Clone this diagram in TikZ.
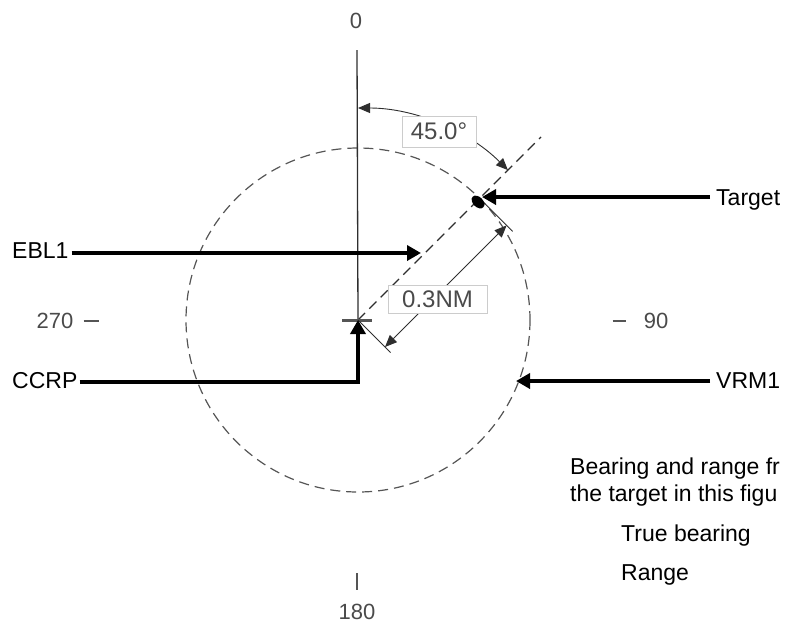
\documentclass[tikz,border=0pt]{standalone}
\usepackage{fontspec}
\setmainfont{Liberation Sans}
\usetikzlibrary{arrows.meta,shapes.geometric,calc}
\definecolor{lblgray}{HTML}{4A4A4A}
\definecolor{boxgray}{HTML}{CCCCCC}
\definecolor{linegray}{HTML}{2E2E2E}
\definecolor{circgray}{HTML}{555555}
\begin{document}
\begin{tikzpicture}[x=1pt,y=-1pt,
  lbl/.style={font=\fontsize{23}{27}\selectfont, inner sep=0pt, text=black},
  scalelbl/.style={font=\fontsize{22}{26}\selectfont, inner sep=0pt, text=lblgray},
  valbox/.style={draw=boxgray, line width=0.8pt, fill=white, text=lblgray,
    font=\fontsize{24}{28}\selectfont, inner sep=0pt},
  bigarrow/.style={line width=4.5pt, line join=miter, -{Triangle[length=14pt,width=15pt]}},
  dimarrow/.style={line width=0.9pt, draw=linegray, {Triangle[length=12pt,width=10pt]}-{Triangle[length=12pt,width=10pt]}},
  dashline/.style={line width=1.2pt, dash pattern=on 10pt off 6pt},
  tickmark/.style={line width=1.6pt, draw=circgray}
]
\useasboundingbox (0,0) rectangle (787,630);
\clip (0,0) rectangle (787,630);

% key points
\coordinate (C) at (358,320);
\coordinate (N) at (357,50);
\coordinate (E) at (541,137);
\coordinate (T) at (479.6,198.4);
\coordinate (X1) at (390.5,352.5);
\coordinate (X2) at (512.6,231.4);
\coordinate (D1) at (385,347);
\coordinate (D2) at (506.6,225.4);

% scale labels
\node[scalelbl] (n0) at (356,21) {0};
\node[scalelbl] (n180) at (357,612) {180};
\node[scalelbl] (n270) at (55,321) {270};
\node[scalelbl] (n90) at (656,321) {90};
\draw[tickmark] (n270.east) ++(10,0) coordinate (w1) -- ++(15,0) coordinate (w2);
\draw[tickmark] (n90.west) ++(-31,0) coordinate (e1) -- ++(13,0) coordinate (e2);
\draw[tickmark] (357,573) coordinate (s1) -- (357,590) coordinate (s2);

% VRM circle
\draw[dashline, draw=circgray] (C) circle[radius=172];

% north line
\draw[line width=1.3pt, draw=linegray] (N) -- (C);

% EBL line
\draw[dashline, draw=linegray] (C) -- (E);

% centre tick
\draw[line width=3pt, draw=circgray] (342,320) coordinate (c1) -- (372,320) coordinate (c2);

% range extension lines
\draw[line width=0.9pt, draw=linegray] (C) -- (X1);
\draw[line width=0.9pt, draw=linegray] (T) -- (X2);

% range dimension
\draw[dimarrow] (D1) -- (D2);
\node[valbox, minimum width=99pt, minimum height=28pt] (rng) at (437.5,299) {0.3NM};

% bearing arc
\draw[dimarrow] (C) ++(-90:212) coordinate (A1) arc[start angle=-90, end angle=-45, radius=212] coordinate (A2);
\node[valbox, minimum width=74pt, minimum height=31pt] (brg) at (439,131.5) {45.0\textdegree};

% target
\node[fill=black, ellipse, inner sep=0pt, minimum width=15pt, minimum height=10pt, rotate=-45] (tgt) at (478,202) {};

% labels and arrows
\node[lbl, anchor=base west] (target) at (716,205) {Target};
\coordinate (ttip) at (482,197);
\draw[bigarrow] (target.west |- ttip) ++(-6,0) -- (ttip);

\node[lbl, anchor=base west] (ebl) at (12,258) {EBL1};
\coordinate (etip) at (421,253);
\draw[bigarrow] (ebl.east |- etip) ++(3,0) -- (etip);

\node[lbl, anchor=base west] (ccrp) at (12,388) {CCRP};
\coordinate (corner) at (358,382);
\coordinate (ctip) at (358,320);
\draw[bigarrow] (ccrp.east |- corner) ++(2,0) -- (corner) -- (ctip);

\node[lbl, anchor=base west] (vrm) at (716,388) {VRM1};
\coordinate (vtip) at (516,381);
\draw[bigarrow] (vrm.west |- vtip) ++(-6,0) -- (vtip);

% question text
\node[lbl, anchor=base west] (q1) at (570,474) {Bearing and range fr};
\node[lbl, anchor=base west] (q2) at (570,501) {the target in this figu};
\node[lbl, anchor=base west] (q3) at (621,541) {True bearing};
\node[lbl, anchor=base west] (q4) at (621,580) {Range};
\end{tikzpicture}
\end{document}
